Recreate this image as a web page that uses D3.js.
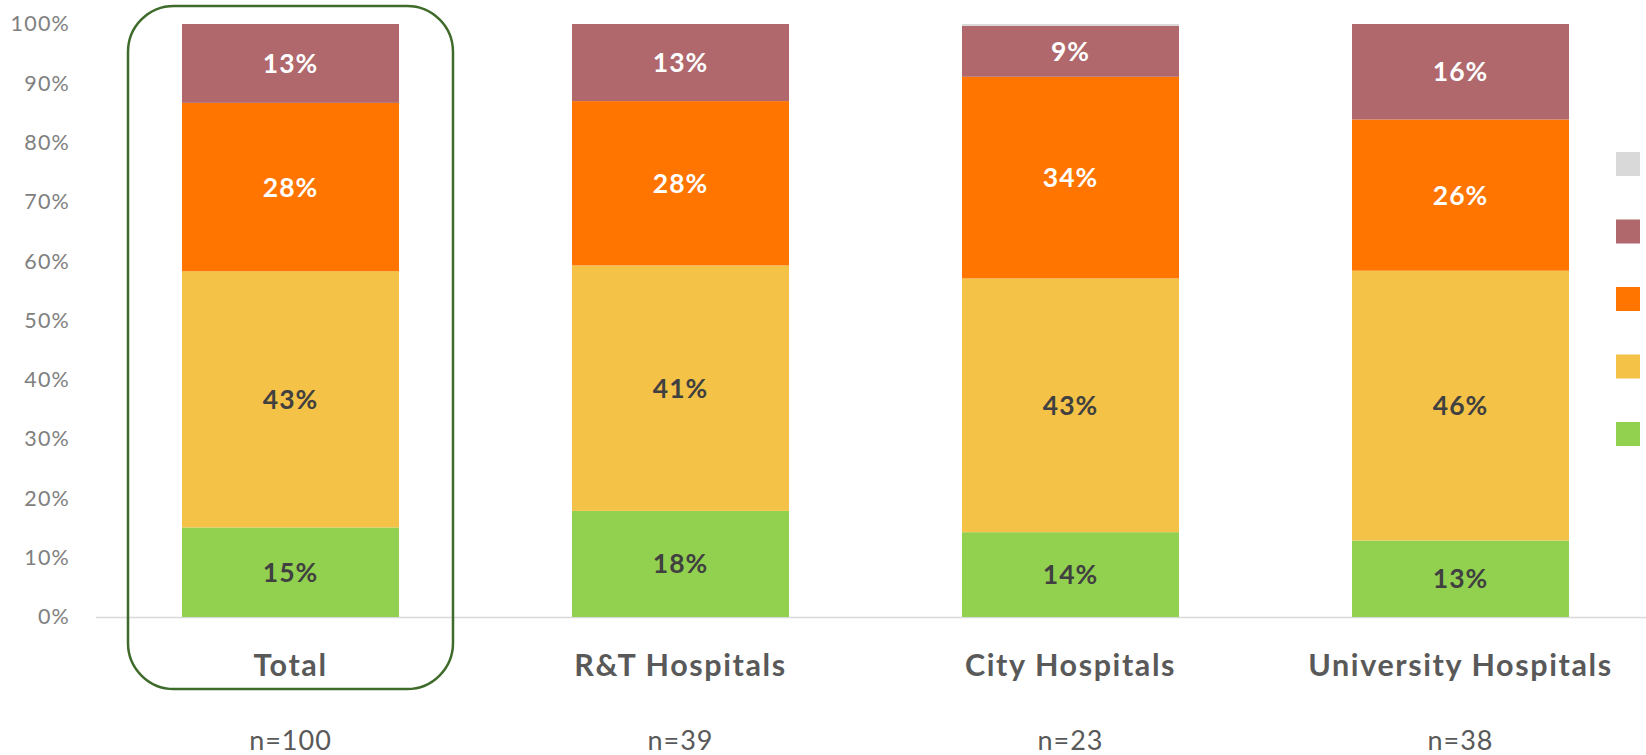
<!DOCTYPE html>
<html>
<head>
<meta charset="utf-8">
<script src="https://cdn.jsdelivr.net/npm/d3@7"></script>
<style>
  html, body { margin: 0; padding: 0; background: #fff; }
  svg { display: block; font-family: Lato, "Open Sans", sans-serif; }
</style>
</head>
<body>
<svg id="chart" width="1646" height="755"></svg>
<script>
// ---- data ----
const categories = ["Total", "R&T Hospitals", "City Hospitals", "University Hospitals"];
const sampleSizes = ["n=100", "n=39", "n=23", "n=38"];
// series stacked from bottom to top
const seriesKeys = ["green", "yellow", "orange", "maroon", "grey"];
const greenValues  = [15.1, 17.9, 14.3, 12.9];
const yellowValues = [43.2, 41.4, 42.8, 45.5];
const orangeValues = [28.4, 27.7, 34.0, 25.5];
const maroonValues = [13.3, 13.0, 8.6, 16.1];
const greyValues   = [0.0, 0.0, 0.3, 0.0];
const yTicks = [0, 10, 20, 30, 40, 50, 60, 70, 80, 90, 100];

// ---- styles ----
const colors = { green: "#92d050", yellow: "#f4c246", orange: "#ff7500", maroon: "#b0686c", grey: "#d9d9d9" };
const labelColors = { green: "#404040", yellow: "#404040", orange: "#ffffff", maroon: "#ffffff", grey: "#404040" };

const table = categories.map((c, i) => ({
  category: c,
  green: greenValues[i], yellow: yellowValues[i], orange: orangeValues[i],
  maroon: maroonValues[i], grey: greyValues[i]
}));

const svg = d3.select("#chart");
const x = d3.scaleBand().domain(categories).range([95.5, 1655.5])
  .paddingInner(0.4436).paddingOuter(0.2218);
const y = d3.scaleLinear().domain([0, 100]).range([617, 24]);

// baseline
svg.append("line").attr("x1", 96).attr("x2", 1646)
  .attr("y1", y(0) + 0.5).attr("y2", y(0) + 0.5)
  .attr("stroke", "#d9d9d9").attr("stroke-width", 1.5);

// y axis
const yAxis = d3.axisLeft(y).tickValues(yTicks).tickFormat(d => d + "%").tickSize(0).tickPadding(0);
const ya = svg.append("g").attr("transform", "translate(70,0)").call(yAxis);
ya.select(".domain").remove();
ya.selectAll("text").attr("font-size", 21.5).attr("fill", "#808080")
  .attr("letter-spacing", 1.2)
  .attr("font-family", "Lato, 'Open Sans', sans-serif");

// stacked bars
const stack = d3.stack().keys(seriesKeys);
const layers = stack(table);
const g = svg.append("g");
layers.forEach(layer => {
  const key = layer.key;
  g.selectAll(null).data(layer).enter().append("rect")
    .attr("x", d => x(d.data.category))
    .attr("width", x.bandwidth())
    .attr("y", d => y(d[1]))
    .attr("height", d => Math.max(0, y(d[0]) - y(d[1])))
    .attr("fill", colors[key]);
  g.selectAll(null).data(layer.filter(d => d[1] - d[0] >= 2)).enter().append("text")
    .attr("x", d => x(d.data.category) + x.bandwidth() / 2)
    .attr("y", d => (y(d[0]) + y(d[1])) / 2)
    .attr("dy", "0.36em")
    .attr("text-anchor", "middle")
    .attr("font-size", 26.5).attr("font-weight", "bold")
    .attr("letter-spacing", 1)
    .attr("fill", labelColors[key])
    .text(d => Math.round(d[1] - d[0]) + "%");
});

// x axis category labels
const xAxis = d3.axisBottom(x).tickSize(0).tickPadding(0);
const xa = svg.append("g").attr("transform", "translate(0,676)").call(xAxis);
xa.select(".domain").remove();
xa.selectAll("text").attr("dy", 0).attr("font-size", 30.5).attr("font-weight", "bold")
  .attr("letter-spacing", 1.6)
  .attr("fill", "#595959").attr("font-family", "Lato, 'Open Sans', sans-serif");

// sample sizes
svg.append("g").selectAll("text").data(categories).enter().append("text")
  .attr("x", d => x(d) + x.bandwidth() / 2)
  .attr("y", 750)
  .attr("text-anchor", "middle")
  .attr("font-size", 27).attr("fill", "#595959")
  .attr("letter-spacing", 1)
  .text((d, i) => sampleSizes[i]);

// highlight box around Total
svg.append("rect")
  .attr("x", x("Total") - 54).attr("y", 6)
  .attr("width", x.bandwidth() + 108).attr("height", 683)
  .attr("rx", 46).attr("ry", 46)
  .attr("fill", "none").attr("stroke", "#3f6b2a").attr("stroke-width", 2.5);

// legend swatches (labels not visible in the reference)
const legendOrder = ["grey", "maroon", "orange", "yellow", "green"];
const ly = d3.scalePoint().domain(legendOrder).range([152, 422]);
svg.append("g").selectAll("rect").data(legendOrder).enter().append("rect")
  .attr("x", 1616).attr("y", d => ly(d))
  .attr("width", 24).attr("height", 24)
  .attr("fill", d => colors[d]);
</script>
</body>
</html>
